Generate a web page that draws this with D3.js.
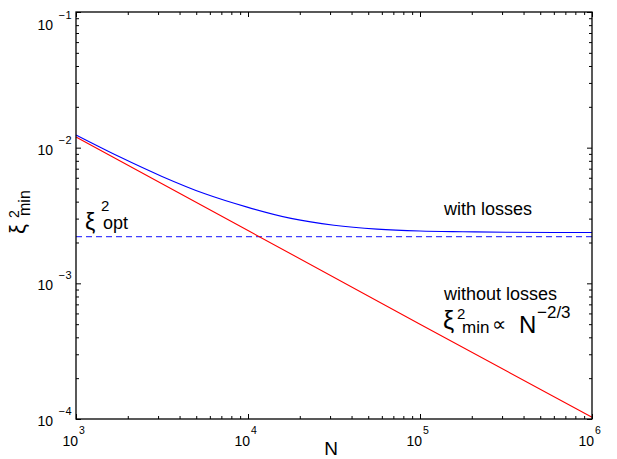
<!DOCTYPE html>
<html>
<head>
<meta charset="utf-8">
<script src="https://cdn.jsdelivr.net/npm/d3@7"></script>
<style>
  html, body { margin: 0; padding: 0; background: #fff; }
  svg { display: block; font-family: "Liberation Sans", Arial, Helvetica, sans-serif; }
</style>
</head>
<body>
<svg id="chart" width="617" height="459"></svg>
<script>
// ---- data ----
const nWith = [1000, 1778, 3162, 5623, 10000, 17783, 31623, 56234, 100000, 177828, 316228, 1000000];
const xiWithLosses = [0.0124, 0.0086, 0.00614, 0.00457, 0.00363, 0.00301, 0.00268, 0.00251, 0.00243, 0.00240, 0.00238, 0.00237];
const nWithout = [1000, 10000, 100000, 1000000];
const xiWithoutLosses = [0.0120, 0.00245, 0.00050, 0.000103];
const nOpt = [1000, 1000000];
const xiOpt = [0.00221, 0.00221];
const xDomain = [1e3, 1e6];
const yDomain = [1e-4, 1e-1];
const xMajorExps = ["3", "4", "5", "6"];
const yMajorExps = ["−4", "−3", "−2", "−1"];

// ---- layout ----
const svg = d3.select("#chart");
const L = 76, R = 592, T = 12, B = 419;
const x = d3.scaleLog().domain(xDomain).range([L, R]);
const y = d3.scaleLog().domain(yDomain).range([B, T]);

const xAll = x.ticks();
const yAll = y.ticks();
const isMajor = v => Math.abs(Math.log10(v) - Math.round(Math.log10(v))) < 1e-9;
const xMajor = xAll.filter(isMajor), xMinor = xAll.filter(v => !isMajor(v));
const yMajor = yAll.filter(isMajor), yMinor = yAll.filter(v => !isMajor(v));

function addAxis(gen, transform, vals, size) {
  const g = svg.append("g").attr("transform", transform)
    .call(gen.tickValues(vals).tickSize(-size).tickFormat(""));
  g.select(".domain").remove();
  g.selectAll(".tick line").attr("stroke", "#000").attr("stroke-width", 1);
}
addAxis(d3.axisBottom(x), `translate(0,${B})`, xMajor, 5);
addAxis(d3.axisBottom(x), `translate(0,${B})`, xMinor, 3);
addAxis(d3.axisTop(x), `translate(0,${T})`, xMajor, 5);
addAxis(d3.axisTop(x), `translate(0,${T})`, xMinor, 3);
addAxis(d3.axisLeft(y), `translate(${L},0)`, yMajor, 5);
addAxis(d3.axisLeft(y), `translate(${L},0)`, yMinor, 3);
addAxis(d3.axisRight(y), `translate(${R},0)`, yMajor, 5);
addAxis(d3.axisRight(y), `translate(${R},0)`, yMinor, 3);

// ---- data lines ----
const pts = (ns, vs) => ns.map((n, i) => [n, vs[i]]);
const lineSmooth = d3.line().x(d => x(d[0])).y(d => y(d[1])).curve(d3.curveMonotoneX);
const lineStraight = d3.line().x(d => x(d[0])).y(d => y(d[1]));

svg.append("path").datum(pts(nOpt, xiOpt)).attr("d", lineStraight)
  .attr("fill", "none").attr("stroke", "#4040ff").attr("stroke-width", 1.1)
  .attr("stroke-dasharray", "6,4");
svg.append("path").datum(pts(nWithout, xiWithoutLosses)).attr("d", lineStraight)
  .attr("fill", "none").attr("stroke", "#ff0000").attr("stroke-width", 1.1);
svg.append("path").datum(pts(nWith, xiWithLosses)).attr("d", lineSmooth)
  .attr("fill", "none").attr("stroke", "#0000ff").attr("stroke-width", 1.1);

// ---- frame ----
svg.append("rect").attr("x", L).attr("y", T).attr("width", R - L).attr("height", B - T)
  .attr("fill", "none").attr("stroke", "#000").attr("stroke-width", 1.3);

// ---- tick labels ----
xMajor.forEach((v, i) => {
  const px = x(v);
  const t = svg.append("text").attr("font-size", 14);
  t.append("tspan").attr("x", px + 2).attr("y", 446).attr("text-anchor", "end").text("10");
  t.append("tspan").attr("x", px + 3).attr("y", 434).attr("font-size", 10.5).text(xMajorExps[i]);
});
yMajor.forEach((v, i) => {
  const py = y(v);
  const base = Math.max(py + 7, 30);
  const t = svg.append("text").attr("font-size", 14).attr("text-anchor", "end");
  t.append("tspan").attr("x", 53).attr("y", base).text("10");
  t.append("tspan").attr("x", 72).attr("y", base - 11).attr("font-size", 11)
    .attr("letter-spacing", 0.5).text(yMajorExps[i]);
});

// ---- axis labels ----
svg.append("text").attr("x", 331).attr("y", 455).attr("text-anchor", "middle")
  .attr("font-size", 19).text("N");
const yl = svg.append("text").attr("transform", "translate(25,234) rotate(-90)").attr("font-size", 22);
yl.append("tspan").attr("x", 0).attr("y", 0).text("ξ");
yl.append("tspan").attr("x", 16).attr("y", -6).attr("font-size", 14).text("2");
yl.append("tspan").attr("x", 18).attr("y", 5).attr("font-size", 16).text("min");

// ---- annotations ----
const opt = svg.append("text").attr("font-size", 23);
opt.append("tspan").attr("x", 85).attr("y", 230).text("ξ");
opt.append("tspan").attr("x", 101).attr("y", 211).attr("font-size", 15).text("2");
opt.append("tspan").attr("x", 103).attr("y", 229).attr("font-size", 18).text("opt");

svg.append("text").attr("x", 444).attr("y", 215).attr("font-size", 18).text("with losses");
svg.append("text").attr("x", 444).attr("y", 300).attr("font-size", 18).text("without losses");

const law = svg.append("text").attr("font-size", 25);
law.append("tspan").attr("x", 443).attr("y", 329).text("ξ");
law.append("tspan").attr("x", 457).attr("y", 319).attr("font-size", 15).text("2");
law.append("tspan").attr("x", 462).attr("y", 333).attr("font-size", 17).text("min");
law.append("tspan").attr("x", 492).attr("y", 331).attr("font-size", 20).text("∝");
law.append("tspan").attr("x", 519).attr("y", 333).attr("font-size", 24).text("N");
law.append("tspan").attr("x", 537).attr("y", 318).attr("font-size", 17).text("−2/3");
</script>
</body>
</html>
